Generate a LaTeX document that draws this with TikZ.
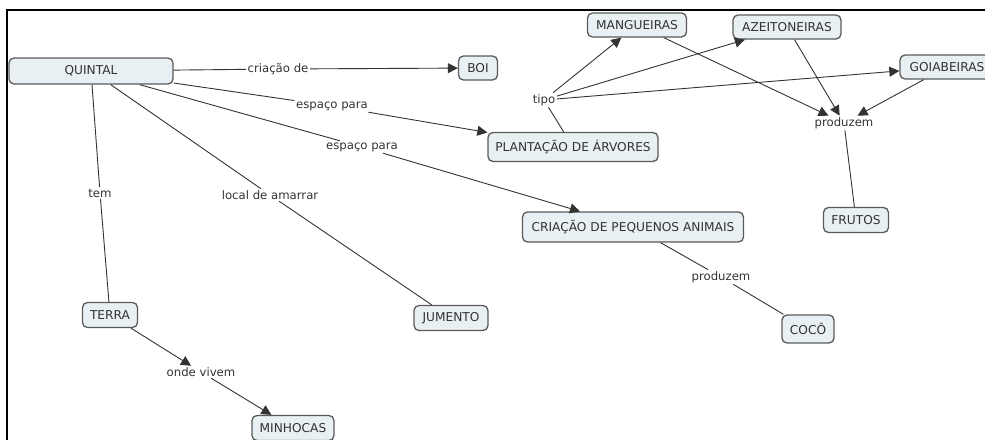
\documentclass[tikz,border=0pt]{standalone}
\usepackage{fontspec}
\setmainfont{DejaVu Sans}
\usetikzlibrary{arrows.meta}
\definecolor{boxfill}{HTML}{E9F0F3}
\definecolor{boxline}{HTML}{5A5A5A}
\definecolor{ink}{HTML}{333333}
\tikzset{
  concept/.style={draw=boxline, line width=1.3pt, fill=boxfill, rounded corners=5pt,
    inner sep=0pt, text=ink, font=\fontsize{12.2}{14}\selectfont},
  phrase/.style={inner sep=1.5pt, text=ink, font=\fontsize{11.7}{14}\selectfont},
  link/.style={draw=ink, line width=0.9pt},
  linkarrow/.style={link, -{Triangle[length=10pt,width=10pt]}},
  frameline/.style={draw=black, line width=2.5pt}
}
\begin{document}
\begin{tikzpicture}[x=1pt,y=-1pt]
\useasboundingbox (0,0) rectangle (985,439);
\begin{scope}
\clip (0,0) rectangle (985,439);
% outer frame (left and top edges)
\draw[frameline] (7,441) -- (7,10) -- (987,10);

% concepts
\node[concept, minimum width=164pt, minimum height=26pt] (quintal) at (91,71) {QUINTAL};
\node[concept, minimum width=39pt, minimum height=24pt] (boi) at (478,68) {BOI};
\node[concept, minimum width=99pt, minimum height=24pt] (mang) at (637,25) {MANGUEIRAS};
\node[concept, minimum width=108pt, minimum height=24pt] (azeit) at (787,27) {AZEITONEIRAS};
\node[concept, minimum width=94pt, minimum height=24pt] (goia) at (947,67) {GOIABEIRAS};
\node[concept, minimum width=170pt, minimum height=29pt] (plant) at (573,147) {PLANTAÇÃO DE ÁRVORES};
\node[concept, minimum width=221pt, minimum height=30pt] (criacao) at (633,227) {CRIAÇÃO DE PEQUENOS ANIMAIS};
\node[concept, minimum width=65pt, minimum height=25pt] (frutos) at (856,220) {FRUTOS};
\node[concept, minimum width=74pt, minimum height=25pt] (jumento) at (451,318) {JUMENTO};
\node[concept, minimum width=52pt, minimum height=28pt] (coco) at (808,329) {COCÔ};
\node[concept, minimum width=55pt, minimum height=25pt] (terra) at (110,315) {TERRA};
\node[concept, minimum width=82pt, minimum height=25pt] (minhocas) at (293,428) {MINHOCAS};

% linking phrases
\node[phrase] (lcriacao) at (278,69) {criação de};
\node[phrase] (lesp1) at (332,106) {espaço para};
\node[phrase] (lesp2) at (362,147) {espaço para};
\node[phrase] (ltem) at (100,193) {tem};
\node[phrase] (llocal) at (270,195) {local de amarrar};
\node[phrase] (ltipo) at (544,100) {tipo};
\node[phrase] (lprod1) at (844,123) {produzem};
\node[phrase] (lprod2) at (721,277) {produzem};
\node[phrase] (londe) at (201,372) {onde vivem};

% connectors
\draw[link] (quintal) -- (lcriacao);
\draw[linkarrow] (lcriacao) -- (boi);
\draw[link] (quintal) -- (lesp1);
\draw[linkarrow] (lesp1) -- (plant);
\draw[link] (quintal) -- (lesp2);
\draw[linkarrow] (lesp2) -- (criacao);
\draw[link] (quintal) -- (ltem);
\draw[link] (ltem) -- (terra);
\draw[link] (quintal) -- (llocal);
\draw[link] (llocal) -- (jumento);

\draw[link] (plant) -- (ltipo);
\draw[linkarrow] (ltipo) -- (mang);
\draw[linkarrow] (ltipo) -- (azeit);
\draw[linkarrow] (ltipo) -- (goia);

\draw[linkarrow] (mang) -- (lprod1);
\draw[linkarrow] (azeit) -- (lprod1);
\draw[linkarrow] (goia) -- (lprod1);
\draw[link] (lprod1) -- (frutos);

\draw[link] (criacao) -- (lprod2);
\draw[link] (lprod2) -- (coco);

\draw[linkarrow] (terra) -- (londe);
\draw[linkarrow] (londe) -- (minhocas);
\end{scope}
\end{tikzpicture}
\end{document}
